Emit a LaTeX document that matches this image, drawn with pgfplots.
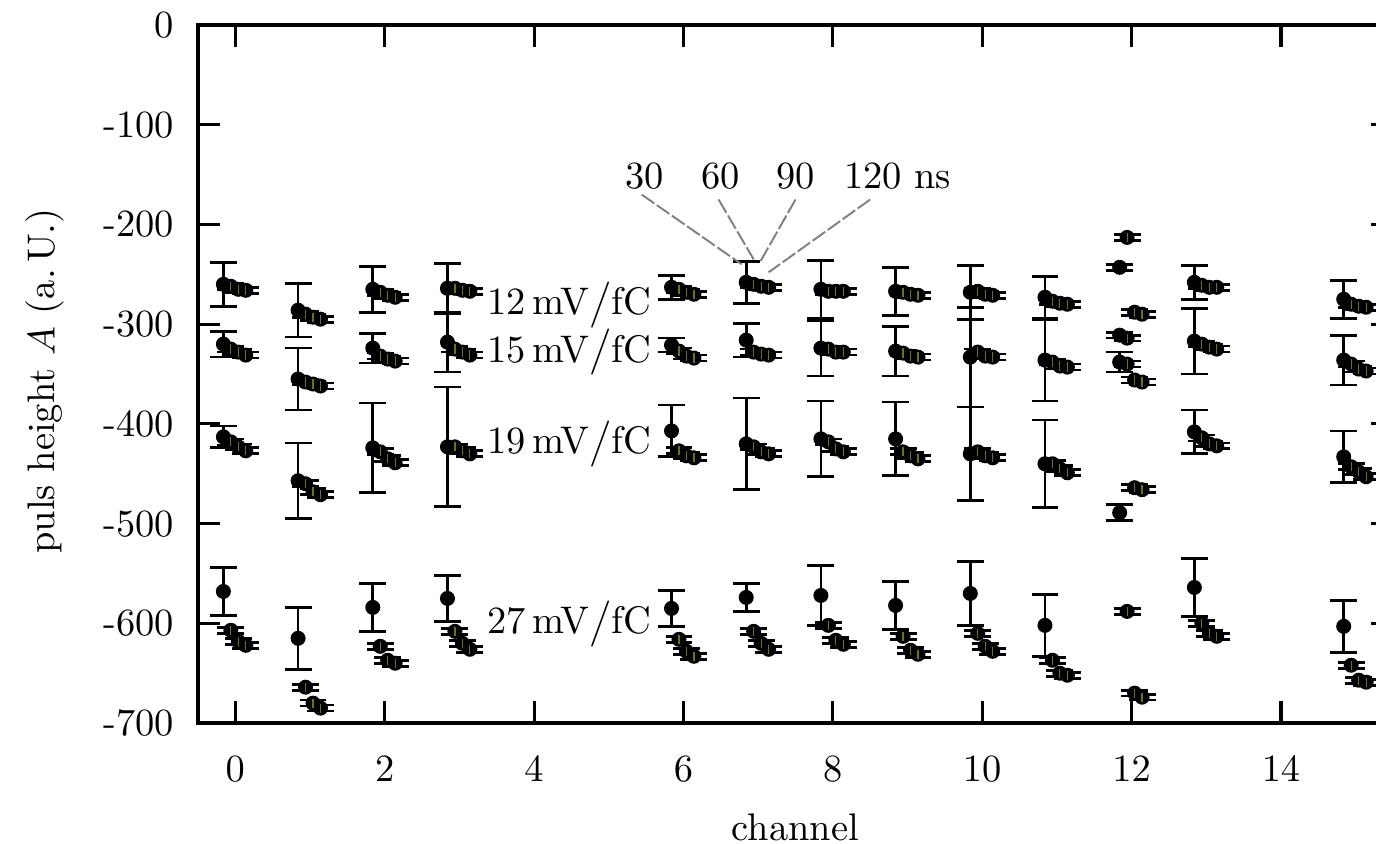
\documentclass[border=0pt]{standalone}
\usepackage{pgfplots}
\pgfplotsset{compat=1.18}
\usepackage{pgfplotstable}

% pulse height per channel, four preamp gains per channel
% columns: channel, pulse height, error
\pgfplotstableread{
ch y e
0 -260 22
0 -320 13
0 -413 11
0 -568 24
1 -286 27
1 -355 31
1 -457 38
1 -615 31
2 -265 23
2 -324 15
2 -424 45
2 -584 24
3 -264 25
3 -318 30
3 -423 60
3 -575 23
6 -263 12
6 -321 7
6 -407 26
6 -585 18
7 -258 21
7 -316 17
7 -420 46
7 -574 14
8 -265 29
8 -324 28
8 -415 38
8 -572 30
9 -267 24
9 -327 25
9 -415 37
9 -582 24
10 -268 27
10 -333 50
10 -430 47
10 -570 32
11 -273 21
11 -336 41
11 -440 44
11 -602 31
12 -243 3
12 -311 3
12 -338 10
12 -489 8
13 -258 17
13 -317 33
13 -408 22
13 -564 29
15 -275 19
15 -336 25
15 -433 26
15 -603 26
}\tthirty

\pgfplotstableread{
ch y e
0 -262 3
0 -325 3
0 -418 3
0 -607 3
1 -290 3
1 -358 3
1 -460 3
1 -664 3
2 -268 3
2 -332 3
2 -428 3
2 -623 3
3 -264 3
3 -325 3
3 -423 3
3 -608 3
6 -265 3
6 -327 3
6 -427 3
6 -616 3
7 -260 3
7 -328 3
7 -423 3
7 -608 3
8 -267 3
8 -325 3
8 -418 3
8 -602 3
9 -268 3
9 -329 3
9 -428 3
9 -613 3
10 -267 3
10 -328 3
10 -428 3
10 -610 3
11 -277 3
11 -338 3
11 -440 3
11 -637 3
12 -213 3
12 -314 3
12 -340 3
12 -588 3
13 -261 3
13 -320 3
13 -414 3
13 -600 3
15 -280 3
15 -340 3
15 -443 3
15 -642 3
}\tsixty

\pgfplotstableread{
ch y e
0 -265 3
0 -328 3
0 -423 3
0 -618 3
1 -293 3
1 -360 3
1 -468 3
1 -680 3
2 -271 3
2 -335 3
2 -435 3
2 -637 3
3 -266 3
3 -328 3
3 -427 3
3 -620 3
6 -268 3
6 -332 3
6 -432 3
6 -628 3
7 -262 3
7 -330 3
7 -428 3
7 -620 3
8 -267 3
8 -328 3
8 -425 3
8 -617 3
9 -270 3
9 -332 3
9 -432 3
9 -627 3
10 -270 3
10 -332 3
10 -432 3
10 -623 3
11 -279 3
11 -342 3
11 -445 3
11 -650 3
12 -288 3
12 -356 3
12 -464 3
12 -670 3
13 -263 3
13 -323 3
13 -420 3
13 -610 3
15 -282 3
15 -345 3
15 -448 3
15 -657 3
}\tninety

\pgfplotstableread{
ch y e
0 -266 3
0 -331 3
0 -427 3
0 -622 3
1 -295 3
1 -362 3
1 -471 3
1 -685 3
2 -273 3
2 -337 3
2 -439 3
2 -640 3
3 -267 3
3 -331 3
3 -430 3
3 -626 3
6 -270 3
6 -334 3
6 -434 3
6 -633 3
7 -263 3
7 -331 3
7 -430 3
7 -626 3
8 -267 3
8 -328 3
8 -428 3
8 -621 3
9 -271 3
9 -333 3
9 -435 3
9 -631 3
10 -271 3
10 -333 3
10 -434 3
10 -628 3
11 -280 3
11 -343 3
11 -449 3
11 -652 3
12 -290 3
12 -358 3
12 -466 3
12 -674 3
13 -263 3
13 -325 3
13 -422 3
13 -613 3
15 -283 3
15 -347 3
15 -453 3
15 -659 3
}\tonetwenty

\definecolor{stripe}{rgb}{0.42,0.46,0.05}

\pgfplotsset{
  meas/.style={
    only marks, mark=*, black, mark size=1.75pt,
    mark options={fill=black, draw=black},
    error bars/.cd, y dir=both, y explicit,
    error bar style={line width=0.7pt, black},
    error mark options={rotate=90, mark size=3.5pt, line width=0.7pt, black},
  },
  stripes/.style={
    only marks, mark=|, mark size=1.2pt,
    mark options={draw=stripe, line width=0.3pt},
  },
}

\begin{document}
\begin{tikzpicture}
\begin{axis}[
  at={(0pt,0pt)}, anchor=south west,
  scale only axis, width=310.7pt, height=181.5pt,
  xmin=-0.5, xmax=15.5, ymin=-700, ymax=0,
  xtick={0,2,...,14},
  ytick={-700,-600,-500,-400,-300,-200,-100,0},
  yticklabels={-700,-600,-500,-400,-300,-200,-100,0},
  axis line style={line width=1pt},
  major tick length=5.7pt,
  every tick/.style={black, line width=0.8pt},
  tick align=inside,
  xticklabel style={yshift=-5.2pt},
  yticklabel style={xshift=-2.7pt},
  xlabel={channel},
  ylabel={puls height $A$ (a.\,U.)},
  xlabel style={at={(axis description cs:0.5,-0.150)}, anchor=center},
  ylabel style={at={(axis description cs:-0.128,0.49)}, anchor=center},
]
% shaping times 30, 60, 90 and 120 ns, side by side within each channel
\addplot[meas] table[x expr=\thisrow{ch}-0.16, y=y, y error=e] {\tthirty};
\addplot[meas] table[x expr=\thisrow{ch}-0.06, y=y, y error=e] {\tsixty};
\addplot[meas] table[x expr=\thisrow{ch}+0.04, y=y, y error=e] {\tninety};
\addplot[meas] table[x expr=\thisrow{ch}+0.14, y=y, y error=e] {\tonetwenty};
\addplot[stripes] table[x expr=\thisrow{ch}-0.06, y=y] {\tsixty};
\addplot[stripes] table[x expr=\thisrow{ch}+0.04, y=y] {\tninety};
\addplot[stripes] table[x expr=\thisrow{ch}+0.14, y=y] {\tonetwenty};

% gain labels
\node[anchor=base west] at (axis cs:3.19,-290) {12\,mV$\big/$fC};
\node[anchor=base west] at (axis cs:3.19,-338) {15\,mV$\big/$fC};
\node[anchor=base west] at (axis cs:3.19,-430) {19\,mV$\big/$fC};
\node[anchor=base west] at (axis cs:3.19,-610) {27\,mV$\big/$fC};

% shaping time labels with pointers to channel 7
\node[anchor=base, inner sep=0pt] at (axis cs:5.48,-164) {30};
\node[anchor=base, inner sep=0pt] at (axis cs:6.50,-164) {60};
\node[anchor=base, inner sep=0pt] at (axis cs:7.50,-164) {90};
\node[anchor=base west, inner sep=0pt] at (axis cs:8.14,-164) {120 ns};
\begin{scope}[gray, line width=0.5pt, dash pattern=on 4pt off 0.8pt]
\draw (axis cs:5.44,-170) -- (axis cs:6.78,-240);
\draw (axis cs:6.47,-175) -- (axis cs:6.94,-235);
\draw (axis cs:7.50,-175) -- (axis cs:7.03,-237);
\draw (axis cs:8.50,-175) -- (axis cs:7.14,-248);
\end{scope}
\end{axis}
\pgfresetboundingbox
\useasboundingbox (-51.48pt,-31.2pt) rectangle (306.28pt,188pt);
\end{tikzpicture}
\end{document}
